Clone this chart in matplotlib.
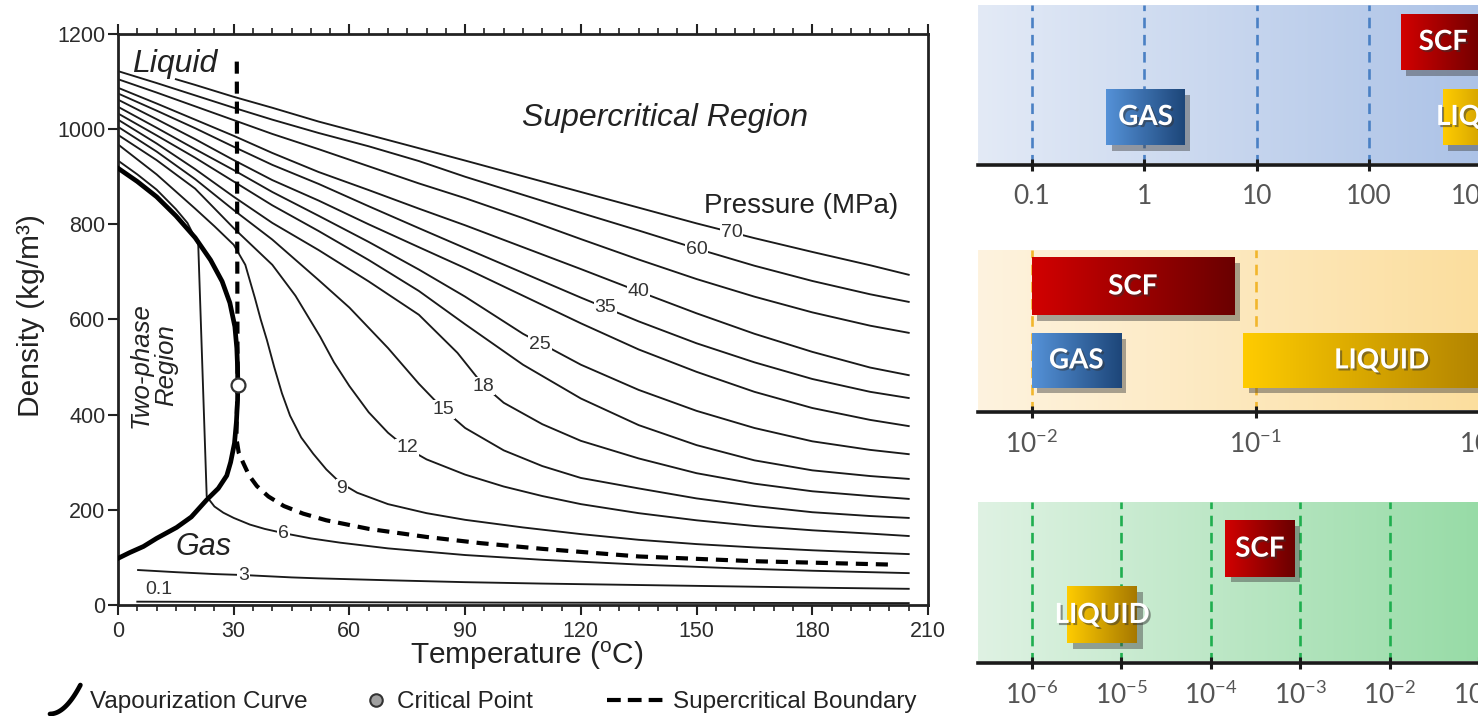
import numpy as np
import matplotlib.pyplot as plt
import matplotlib.patheffects as pe
from matplotlib import font_manager
from matplotlib.colors import LinearSegmentedColormap
from matplotlib.legend_handler import HandlerBase
from matplotlib.lines import Line2D
from matplotlib.patches import Rectangle
from matplotlib.ticker import MultipleLocator, NullLocator

# ---------------------------------------------------------------
# data: CO2 isobars, temperature (C) vs density (kg/m3)
# ---------------------------------------------------------------
t_grid = [0, 10, 20, 30, 40, 52, 65, 78, 90, 105, 120, 135, 150, 165, 180, 195, 205]

t_70 = [15, 20, 30, 40, 52, 65, 78, 90, 105, 120, 135, 150, 165, 180, 195, 205]
rho_70 = [1105, 1093, 1068, 1045, 1016, 988, 960, 934, 901, 868, 835, 802, 771, 742, 714, 694]
rho_60 = [1122, 1097, 1071, 1045, 1020, 992, 964, 933, 900, 862, 824, 787, 749, 713, 681, 653, 637]
rho_50 = [1105, 1077, 1048, 1019, 990, 958, 922, 886, 855, 813, 769, 726, 685, 648, 615, 587, 572]
rho_40 = [1087, 1054, 1020, 986, 950, 910, 872, 833, 798, 752, 706, 659, 613, 570, 532, 499, 483]
rho_35 = [1075, 1039, 1002, 963, 925, 885, 838, 792, 750, 698, 646, 596, 550, 510, 475, 448, 435]
rho_30 = [1062, 1021, 979, 935, 893, 850, 800, 752, 708, 650, 592, 537, 490, 448, 414, 389, 376]
rho_25 = [1047, 1003, 958, 914, 868, 818, 763, 705, 648, 570, 505, 452, 408, 372, 344, 326, 317]
rho_21 = [1033, 987, 940, 890, 840, 786, 725, 660, 590, 505, 434, 378, 336, 304, 283, 271, 265]

t_18 = [0, 10, 20, 30, 40, 52, 65, 78, 88, 94.7, 100, 110, 120, 135, 150, 165, 180, 195, 205]
rho_18 = [1020, 970, 916, 858, 803, 746, 680, 610, 530, 462, 425, 380, 345, 308, 277, 255, 239, 229, 223]

t_15 = [0, 10, 20, 30, 40, 52, 60, 70, 78, 84.3, 90, 100, 110, 120, 135, 150, 165, 180, 195, 205]
rho_15 = [1005, 953, 895, 830, 768, 683, 625, 540, 465, 412, 372, 325, 292, 267, 245, 224, 208, 195, 187, 183]

t_12 = [0, 10, 20, 30, 40, 46, 52.4, 56, 60, 65, 70, 74.8, 80, 90, 100, 110, 120, 135, 150, 165, 180, 195, 205]
rho_12 = [988, 935, 875, 792, 715, 650, 564, 510, 460, 405, 362, 330, 306, 274, 249, 229, 212, 193, 178, 166,
          157, 150, 145]

t_9 = [0, 10, 20, 25, 30, 33, 35.5, 37, 38.6, 40.5, 42.5, 44.6, 47.5, 50.6, 54, 57.6, 62, 70, 80, 90, 105,
       120, 135, 150, 165, 180, 195, 205]
rho_9 = [968, 905, 833, 796, 757, 715, 645, 600, 557, 500, 445, 398, 352, 318, 285, 257, 236, 212, 193, 179,
         163, 149, 137, 128, 121, 115, 110, 107]

t_6 = [0, 5, 10, 15, 18, 20.8, 23.0, 25, 27.3, 30, 34.2, 38, 42.9, 50, 57.6, 70, 90, 110, 135, 160, 180, 205]
rho_6 = [934, 905, 873, 832, 803, 758, 228, 207, 194, 183, 169, 160, 151, 140, 131, 119, 105, 95, 85, 77, 72, 67]

t_3 = [5.2, 15, 25, 32.5, 45, 52, 70, 90, 110, 135, 160, 185, 205]
rho_3 = [73.5, 69, 65, 63, 58, 56, 52, 48, 45, 42, 39, 36, 34]

t_01 = [5, 50, 100, 150, 205]
rho_01 = [7, 6, 5, 4.5, 4]

# vaporization curve (liquid branch -> critical point -> vapour branch)
t_vap = [0, 5, 10, 15, 20, 24, 27, 29, 30.3, 30.8, 31.0, 31.05, 31.0, 30.7, 30.2, 29.2, 28.2, 26, 23, 19,
         15.2, 10, 6.6, 3, 0]
rho_vap = [918, 890, 858, 818, 772, 725, 680, 635, 585, 540, 500, 467, 430, 385, 340, 300, 272, 245, 221, 185,
           163, 140, 123, 110, 98]

# supercritical boundary
t_scb = [30.8, 31.0, 30.8, 30.7, 31.3, 32.5, 34, 36, 39, 43, 48, 54, 65, 80, 94, 110, 135, 165, 200]
rho_scb = [1142, 467, 400, 350, 320, 298, 272, 250, 228, 208, 192, 178, 160, 143, 130, 118, 102, 92, 85]

crit_t = [31.0]
crit_rho = [463]

label_text = ['0.1', '3', '6', '9', '12', '15', '18', '25', '35', '40', '60', '70']
label_t = [10.5, 32.5, 42.9, 58.0, 74.9, 84.4, 94.7, 109.4, 126.3, 134.9, 150.0, 159.1]
label_rho = [33, 63, 151, 245, 330, 411, 460, 548, 625, 659, 748, 782]

# right hand panels (log scales)
p1_ticks = [0.1, 1, 10, 100, 1000]
p1_ticklabels = ['0.1', '1', '10', '100', '1000']
p1_names = ['SCF', 'GAS', 'LIQUID']
p1_lo = [190, 0.46, 450]
p1_hi = [1100, 2.3, 2400]
p1_row = [1, 0, 0]

p2_ticks = [0.01, 0.1, 1]
p2_ticklabels = [r'$\mathregular{10^{-2}}$', r'$\mathregular{10^{-1}}$', r'$\mathregular{10^{0}}$']
p2_names = ['SCF', 'GAS', 'LIQUID']
p2_lo = [0.01, 0.01, 0.088]
p2_hi = [0.08, 0.025, 1.5]
p2_row = [1, 0, 0]

p3_ticks = [1e-6, 1e-5, 1e-4, 1e-3, 1e-2, 1e-1]
p3_ticklabels = [r'$\mathregular{10^{-6}}$', r'$\mathregular{10^{-5}}$', r'$\mathregular{10^{-4}}$',
                 r'$\mathregular{10^{-3}}$', r'$\mathregular{10^{-2}}$', r'$\mathregular{10^{-1}}$']
p3_names = ['SCF', 'LIQUID']
p3_lo = [1.45e-4, 2.5e-6]
p3_hi = [8.7e-4, 1.5e-5]
p3_row = [1, 0]

# ---------------------------------------------------------------
plt.rcParams['font.family'] = ['Liberation Sans', 'DejaVu Sans']
plt.rcParams['mathtext.fontset'] = 'custom'
plt.rcParams['mathtext.rm'] = 'Lato'
plt.rcParams['mathtext.it'] = 'Lato:italic'

names = {f.name for f in font_manager.fontManager.ttflist}
NARROW = 'Liberation Sans Narrow' if 'Liberation Sans Narrow' in names else 'Liberation Sans'
LBL_SIZE = 15.5 if NARROW.endswith('Narrow') else 14
INK = '#222222'

fig = plt.figure(figsize=(14.78, 7.16), dpi=100)

# ------------------------- phase diagram ------------------------
ax = fig.add_axes([118 / 1478, 1 - 605 / 716, 810 / 1478, 571 / 716])
ax.set_xlim(0, 210)
ax.set_ylim(0, 1200)

isobars = [(t_70, rho_70), (t_grid, rho_60), (t_grid, rho_50), (t_grid, rho_40), (t_grid, rho_35),
           (t_grid, rho_30), (t_grid, rho_25), (t_grid, rho_21), (t_18, rho_18), (t_15, rho_15),
           (t_12, rho_12), (t_9, rho_9), (t_6, rho_6), (t_3, rho_3), (t_01, rho_01)]
for t, r in isobars:
    ax.plot(t, r, color='#1a1a1a', lw=1.35, zorder=2)

ax.plot(t_vap, rho_vap, color='k', lw=3.4, zorder=3, solid_joinstyle='round')
ax.plot(t_scb, rho_scb, color='k', lw=3.0, ls=(0, (2.9, 1.9)), zorder=3)
ax.plot(crit_t, crit_rho, 'o', ms=10, mfc='white', mec='#333333', mew=1.6, zorder=6)

for s, t, r in zip(label_text, label_t, label_rho):
    ax.text(t, r, s, ha='center', va='center', fontsize=LBL_SIZE, family=NARROW, color='#333333', zorder=5,
            bbox=dict(boxstyle='square,pad=0.04', fc='white', ec='none'))

ax.text(3.6, 1121, 'Liquid', fontsize=23, style='italic', color=INK, ha='left', va='baseline')
ax.text(104.7, 1007, 'Supercritical Region', fontsize=23, style='italic', color=INK, ha='left', va='baseline')
ax.text(151.8, 823, 'Pressure (MPa)', fontsize=20, color=INK, ha='left', va='baseline')
ax.text(14.8, 105, 'Gas', fontsize=22, style='italic', color=INK, ha='left', va='baseline')
ax.text(9.2, 504, 'Two-phase\nRegion', fontsize=18.5, style='italic', color=INK, rotation=90,
        ha='center', va='center', multialignment='center', linespacing=1.05)

ax.xaxis.set_major_locator(MultipleLocator(30))
ax.xaxis.set_minor_locator(MultipleLocator(5))
ax.yaxis.set_major_locator(MultipleLocator(200))
ax.tick_params(axis='x', which='both', top=True, direction='out', color=INK)
ax.tick_params(axis='x', which='major', length=7.5, width=1.5, labelsize=15.5, pad=4, labelcolor='#2b2b2b')
ax.tick_params(axis='x', which='minor', length=4, width=1.2)
ax.tick_params(axis='y', which='major', direction='out', length=7, width=1.5, labelsize=15.5, pad=2,
               labelcolor='#2b2b2b', color=INK)
for sp in ax.spines.values():
    sp.set_linewidth(2.0)
    sp.set_color(INK)

ax.set_xlabel('Temperature ($\\mathregular{^o}$C)', fontsize=21.5, color=INK)
ax.xaxis.set_label_coords(0.505, -0.060)
ax.set_ylabel('Density (kg/m\u00b3)', fontsize=21.5, color=INK)
ax.yaxis.set_label_coords(-0.090, 0.507)


# ------------------------- legend row ---------------------------
class ArcHandler(HandlerBase):
    def create_artists(self, legend, orig_handle, xdescent, ydescent, width, height, fontsize, trans):
        s = np.linspace(0, 1, 30)
        x = -xdescent + width * s
        y = -ydescent + height * (-0.35 + 1.7 * s ** 2)
        line = Line2D(x, y, color='k', lw=3.4, solid_capstyle='round')
        line.set_transform(trans)
        return [line]


vap_handle = Line2D([], [], color='k')
leg_kw = dict(loc='center left', frameon=False, fontsize=17.5, borderpad=0, borderaxespad=0,
              labelcolor=INK)
fig.legend(handles=[vap_handle], labels=['Vapourization Curve'], handler_map={vap_handle: ArcHandler()},
           bbox_to_anchor=(50 / 1478, 1 - 702 / 716), handlelength=1.25, handletextpad=0.41, **leg_kw)
fig.legend(handles=[Line2D([], [], ls='none', marker='o', ms=9, mfc='#a0a0a0', mec='#333333', mew=1.5)],
           labels=['Critical Point'], bbox_to_anchor=(366 / 1478, 1 - 702 / 716),
           handlelength=0.8, handletextpad=0.46, **leg_kw)
fig.legend(handles=[Line2D([], [], color='k', lw=3.0, ls=(0, (3.3, 1.7)))], labels=['Supercritical Boundary'],
           bbox_to_anchor=(607 / 1478, 1 - 702 / 716), handlelength=2.3, handletextpad=0.41, **leg_kw)

# ------------------------- right panels -------------------------
box_colors = {'SCF': ('#d20000', '#6a0000'), 'GAS': ('#5592d8', '#1d4679'), 'LIQUID': ('#ffcc00', '#a67800')}
grad = np.linspace(0, 1, 256).reshape(1, -1)


def draw_panel(rect, xlim, ticks, ticklabels, names_, lo, hi, rows, row_y, bg, dash_color):
    pax = fig.add_axes(rect)
    pax.set_xscale('log')
    pax.set_xlim(*xlim)
    pax.set_ylim(0, 1)
    pax.set_autoscale_on(False)
    pax.patch.set_visible(False)
    pax.imshow(grad, extent=(0, 1, 0.012, 1), transform=pax.transAxes, aspect='auto',
               cmap=LinearSegmentedColormap.from_list('bg', bg), interpolation='bilinear', zorder=0)
    for t in ticks:
        pax.axvline(t, color=dash_color, lw=1.9, ls=(0, (4, 2.5)), zorder=1)
    to_axes = pax.transData + pax.transAxes.inverted()
    for name, a, b, r in zip(names_, lo, hi, rows):
        y0, y1 = row_y[r]
        c0, c1 = box_colors[name]
        pax.add_patch(Rectangle((a, y0), b - a, y1 - y0, facecolor=c0, edgecolor='none', zorder=2,
                                path_effects=[pe.SimplePatchShadow(offset=(4, -4), shadow_rgbFace='0.25',
                                                                   alpha=0.45), pe.Normal()]))
        fx0 = to_axes.transform((a, 0.5))[0]
        fx1 = to_axes.transform((b, 0.5))[0]
        pax.imshow(grad, extent=(fx0, fx1, y0, y1), transform=pax.transAxes, aspect='auto',
                   cmap=LinearSegmentedColormap.from_list(name, [c0, c1]), interpolation='bilinear', zorder=3)
        pax.text(np.sqrt(a * b), (y0 + y1) / 2, name, ha='center', va='center', color='white',
                 fontsize=20, fontweight='bold', family='Lato', zorder=4,
                 path_effects=[pe.SimplePatchShadow(offset=(1.5, -1.5), shadow_rgbFace='0.2', alpha=0.5),
                               pe.Normal()])
    for side in ('top', 'left', 'right'):
        pax.spines[side].set_visible(False)
    pax.spines['bottom'].set_linewidth(2.6)
    pax.spines['bottom'].set_color('#1a1a1a')
    pax.set_yticks([])
    pax.set_xticks(ticks)
    pax.set_xticklabels(ticklabels)
    pax.xaxis.set_minor_locator(NullLocator())
    pax.tick_params(axis='x', direction='inout', length=9, width=2.2, color='#1a1a1a', pad=9,
                    labelsize=19, labelcolor='#555555')
    for lab in pax.get_xticklabels():
        lab.set_fontfamily('Lato')
    return pax


# the panels run past the right edge of the picture, as in the reference crop
W = 622 / 1478
draw_panel([978 / 1478, 1 - 165 / 716, W, 160 / 716], (10 ** -1.477, 10 ** 4.052),
           p1_ticks, p1_ticklabels, p1_names, p1_lo, p1_hi, p1_row,
           {1: (0.594, 0.944), 0: (0.125, 0.475)}, ['#e3eaf6', '#9fb9e3'], '#4a80c4')
draw_panel([978 / 1478, 1 - 411.7 / 716, W, 161.7 / 716], (10 ** -2.239, 10 ** 0.534),
           p2_ticks, p2_ticklabels, p2_names, p2_lo, p2_hi, p2_row,
           {1: (0.598, 0.951), 0: (0.147, 0.487)}, ['#fef3df', '#fbd98e'], '#f2b62c')
draw_panel([978 / 1478, 1 - 662.7 / 716, W, 160.7 / 716], (10 ** -6.6, 10 ** 0.35),
           p3_ticks, p3_ticklabels, p3_names, p3_lo, p3_hi, p3_row,
           {1: (0.535, 0.884), 0: (0.121, 0.473)}, ['#dff2e3', '#86d698'], '#1fae4f')

fig.savefig('out.png', dpi=100)
